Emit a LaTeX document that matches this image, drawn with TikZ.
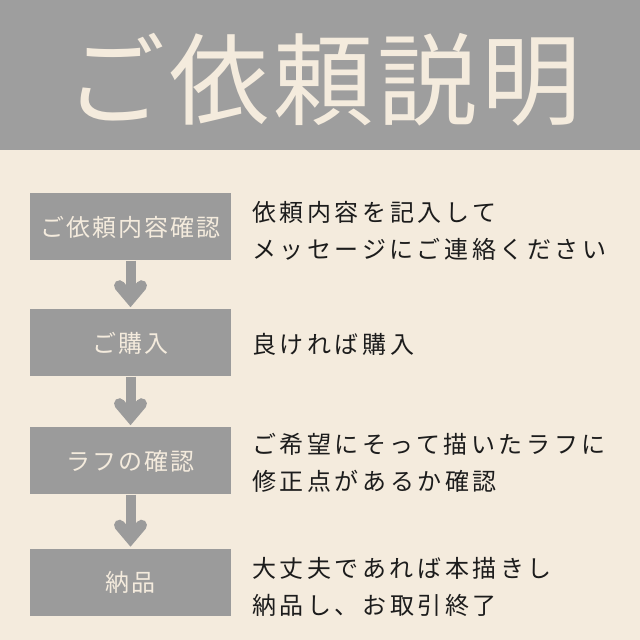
\documentclass[tikz,border=0pt]{standalone}
\usepackage{fontspec}
\setmainfont{Noto Sans CJK JP}
\newfontfamily\titlefont[LetterSpace=4]{Noto Sans CJK JP}
\newfontfamily\boxfont[LetterSpace=8]{Noto Sans CJK JP}
\newfontfamily\descfont[LetterSpace=15]{Noto Sans CJK JP}
\usetikzlibrary{calc}
\definecolor{bandgray}{HTML}{9E9E9E}
\definecolor{cream}{HTML}{F4EBDD}
\definecolor{boxgray}{HTML}{9B9B9B}
\definecolor{inkblack}{HTML}{1C1C1C}
\tikzset{
  stepbox/.style={fill=boxgray, minimum width=201pt, minimum height=67pt, inner sep=0pt, text=cream, font=\boxfont\fontsize{24}{28}\selectfont},
  desc/.style={anchor=west, align=left, text=inkblack, inner sep=0pt, font=\descfont\fontsize{24}{37}\selectfont},
  shaft/.style={draw=boxgray, line width=10pt},
  chevron/.style={draw=boxgray, line width=11pt, line cap=round, line join=miter},
}
\begin{document}
\begin{tikzpicture}[x=1pt,y=1pt]
\useasboundingbox (0,0) rectangle (640,640);
\fill[cream] (0,0) rectangle (640,640);
\fill[bandgray] (0,490) rectangle (640,640);
\node[text=cream, inner sep=0pt, font=\titlefont\fontsize{100}{100}\selectfont] (title) at (323,560) {ご依頼説明};
% steps
\node[stepbox] (s1) at (130.5,413) {ご依頼内容確認};
\node[stepbox] (s2) at (130.5,297) {ご購入};
\node[stepbox] (s3) at (130.5,179) {ラフの確認};
\node[stepbox] (s4) at (130.5,57.5) {納品};
% descriptions
\node[desc] (d1) at (252,409.5) {依頼内容を記入して\\メッセージにご連絡ください};
\node[desc] (d2) at (252,296) {良ければ購入};
\node[desc] (d3) at (252,177.5) {ご希望にそって描いたラフに\\修正点があるか確認};
\node[desc] (d4) at (252,53.5) {大丈夫であれば本描きし\\納品し、お取引終了};
% arrows
\foreach \a/\b in {s1/s2,s2/s3,s3/s4} {
  \draw[shaft] (\a.south) -- ($(\b.north)+(0,11)$);
  \draw[chevron] ($(\b.north)+(-11,23.6)$) -- ($(\b.north)+(0,10.6)$) -- ($(\b.north)+(11,23.6)$);
}
\end{tikzpicture}
\end{document}
